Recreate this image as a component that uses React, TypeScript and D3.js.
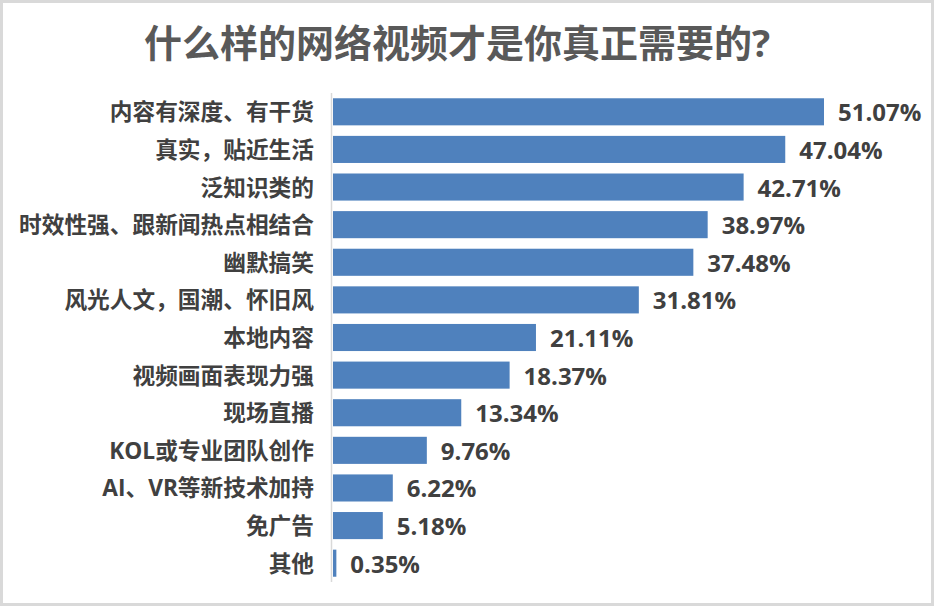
import React from "react";
import * as d3 from "d3";

const title = "什么样的网络视频才是你真正需要的?";
const categories = [
  "内容有深度、有干货",
  "真实，贴近生活",
  "泛知识类的",
  "时效性强、跟新闻热点相结合",
  "幽默搞笑",
  "风光人文，国潮、怀旧风",
  "本地内容",
  "视频画面表现力强",
  "现场直播",
  "KOL或专业团队创作",
  "AI、VR等新技术加持",
  "免广告",
  "其他",
];
const values = [51.07, 47.04, 42.71, 38.97, 37.48, 31.81, 21.11, 18.37, 13.34, 9.76, 6.22, 5.18, 0.35];

const W = 934;
const H = 606;
const FONT = "'Open Sans', 'Noto Sans CJK SC', sans-serif";

export default function App() {
  const x0 = 333;
  const x = d3.scaleLinear().domain([0, 51.07]).range([x0, 824]);
  const y = d3
    .scaleBand<string>()
    .domain(categories)
    .range([93, 582])
    .paddingInner(0.28)
    .paddingOuter(0.14);

  return (
    <div style={{ position: "absolute", left: 0, top: 0 }}>
      <svg width={W} height={H} style={{ display: "block" }}>
        <rect x={0} y={0} width={W} height={H} fill="#ffffff" />
        <rect x={1.5} y={1.5} width={W - 3} height={H - 3} fill="none" stroke="#d9d9d9" strokeWidth={3} />
        <text
          x={457}
          y={42}
          textAnchor="middle"
          dominantBaseline="central"
          fontFamily={FONT}
          fontWeight={700}
          fontSize={38}
          fill="#595959"
        >
          {title}
        </text>
        {categories.map((c, i) => {
          const yy = y(c)!;
          const bh = y.bandwidth();
          const cy = yy + bh / 2;
          return (
            <g key={c}>
              <rect x={x0} y={yy} width={Math.max(0, x(values[i]) - x0)} height={bh} fill="#4f81bd" />
              <text
                x={314}
                y={cy}
                textAnchor="end"
                dominantBaseline="central"
                fontFamily={FONT}
                fontWeight={700}
                fontSize={22.7}
                fill="#404040"
              >
                {c}
              </text>
              <text
                x={x(values[i]) + 14}
                y={cy}
                textAnchor="start"
                dominantBaseline="central"
                fontFamily={FONT}
                fontWeight={700}
                fontSize={24}
                fill="#404040"
              >
                {values[i].toFixed(2) + "%"}
              </text>
            </g>
          );
        })}
        <line x1={331.5} x2={331.5} y1={93} y2={582} stroke="#d9d9d9" strokeWidth={1.5} />
      </svg>
    </div>
  );
}
